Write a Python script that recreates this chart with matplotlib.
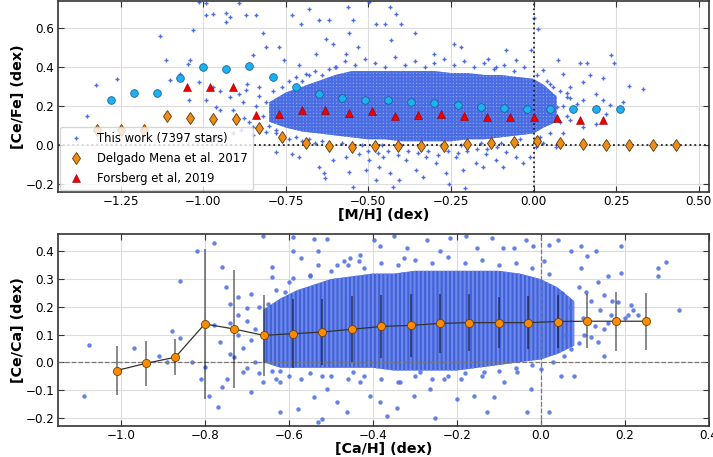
import matplotlib
matplotlib.use('Agg')
import matplotlib.pyplot as plt
import numpy as np

# ---- top panel: [Ce/Fe] vs [M/H] ----
# binned means of this work
mean_mh = [-1.28, -1.21, -1.14, -1.07, -1.00, -0.93, -0.86, -0.79, -0.72, -0.65, -0.58, -0.51,
           -0.44, -0.37, -0.30, -0.23, -0.16, -0.09, -0.02, 0.05, 0.12, 0.19, 0.26]
mean_cefe = [0.23, 0.268, 0.27, 0.344, 0.402, 0.393, 0.407, 0.35, 0.299, 0.265, 0.241, 0.234,
             0.231, 0.222, 0.214, 0.205, 0.197, 0.191, 0.186, 0.188, 0.188, 0.186, 0.188]

# Delgado Mena et al. 2017
dm_mh = [-1.32, -1.25, -1.18, -1.11, -1.04, -0.97, -0.90, -0.83, -0.76, -0.69, -0.62, -0.55, -0.48,
         -0.41, -0.34, -0.27, -0.20, -0.13, -0.06, 0.01, 0.08, 0.15, 0.22, 0.29, 0.36, 0.43]
dm_cefe = [0.080, 0.080, 0.080, 0.149, 0.140, 0.133, 0.133, 0.090, 0.044, 0.010, -0.004, -0.009, -0.004,
           -0.005, -0.004, -0.002, 0.005, 0.009, 0.014, 0.019, 0.012, 0.007, 0.003, 0.002, 0.002, 0.002]

# Forsberg et al. 2019
fo_mh = [-1.05, -0.98, -0.91, -0.84, -0.77, -0.70, -0.63, -0.56, -0.49, -0.42, -0.35, -0.28,
         -0.21, -0.14, -0.07, 0.00, 0.07, 0.14, 0.21]
fo_cefe = [0.296, 0.296, 0.296, 0.157, 0.159, 0.181, 0.181, 0.164, 0.176, 0.150, 0.154, 0.159,
           0.152, 0.147, 0.144, 0.144, 0.137, 0.128, 0.128]

# envelope of the dense part of the star cloud
core_mh = [-0.80, -0.75, -0.70, -0.65, -0.60, -0.55, -0.50, -0.45, -0.40, -0.35, -0.30, -0.25,
           -0.20, -0.15, -0.10, -0.05, 0.00, 0.03, 0.07]
core_lo = [0.12, 0.09, 0.07, 0.06, 0.05, 0.04, 0.03, 0.03, 0.02, 0.02, 0.02, 0.02,
           0.03, 0.03, 0.04, 0.05, 0.06, 0.09, 0.12]
core_hi = [0.22, 0.27, 0.30, 0.33, 0.36, 0.38, 0.38, 0.38, 0.38, 0.38, 0.38, 0.37,
           0.37, 0.36, 0.36, 0.35, 0.34, 0.31, 0.25]

# individual stars outside the dense part
halo_mh = [-1.323, -1.353, -1.262, -1.130, -1.113, -1.100, -1.070, -1.045, -1.040, -1.032, -1.012, -0.990,
           -0.990, -0.970, -0.930, -0.930, -0.920, -0.890, -0.870, -0.840, -1.042, -1.012, -0.970, -0.950,
           -0.960, -0.990, -0.920, -0.890, -0.870, -0.866, -0.850, -0.820, -0.810, -0.770, -0.755, -0.730,
           -0.705, -0.680, -0.650, -0.620, -0.563, -0.910, -0.850, -0.876, -0.810, -0.780, -0.950, -0.910,
           -0.884, -0.960, -0.648, -0.634, -0.630, -0.608, -0.568, -0.558, -0.547, -0.710, -0.730, -0.658,
           -0.608, -0.568, -0.558, -0.532, -0.628, -0.709, -0.689, -0.598,
           -0.497, -0.436, -0.416, -0.477, -0.450, -0.400, -0.360, -0.430, -0.548, 0.000, 0.013, -0.240,
           -0.220, -0.300, -0.082, -0.008, -0.138, -0.113, -0.053, 0.074, 0.090, 0.140, 0.162, 0.233,
           0.243, 0.290, 0.330, 0.210, 0.170, 0.150, 0.110, 0.100, 0.150, 0.190, 0.230, 0.220,
           0.190, 0.150, 0.110, 0.090, 0.050, 0.070, 0.050, 0.028, 0.270, 0.210,
           -0.528, -0.497, -0.467, -0.436, -0.406, -0.426, -0.356, -0.336, -0.296, -0.265, -0.255, -0.215,
           -0.174, -0.154, -0.113, -0.093, -0.053, -0.032, -0.012, -0.209, -0.477, -0.507, -0.456, -0.386,
           -0.325, -0.234, -0.144, -0.083, 0.008, 0.028, 0.069,
           -0.50, -0.47, -0.44, -0.41, -0.38, -0.35, -0.32, -0.29, -0.26, -0.23, -0.20, -0.17, -0.14, -0.11,
           -0.60, -0.57, -0.54, -0.51, -0.48, -0.45, -0.42, -0.39, -0.36, -0.33, -0.30, -0.27, -0.24, -0.21,
           -0.18, -0.15, -0.12, -0.09, -0.06, -0.03, 0.01, 0.04, 0.06,
           -0.84, -0.83, -0.82, -0.81, -0.80, -0.79, -0.78, -0.83, -0.86, -0.88, -0.85,
           -0.76, -0.74, -0.72, -0.70, -0.68, -0.66, -0.64, -0.62,
           -0.78, -0.76, -0.74, -0.72, -0.70, -0.68, -0.66, -0.64, -0.62, -0.58, -0.52, -0.46, -0.40, -0.34,
           -0.28, -0.22, -0.16, -0.10, -0.04, 0.02,
           0.08, 0.09, 0.10, 0.11, 0.12, 0.13, 0.08, 0.10]
halo_cefe = [0.311, 0.150, 0.340, 0.561, 0.439, 0.332, 0.364, 0.414, 0.439, 0.590, 0.735, 0.727,
             0.667, 0.675, 0.680, 0.630, 0.655, 0.730, 0.667, 0.667, 0.230, 0.325, 0.300, 0.280,
             0.197, 0.230, 0.248, 0.265, 0.282, 0.316, 0.460, 0.573, 0.504, 0.504, 0.439, 0.667,
             0.624, 0.700, 0.640, 0.640, 0.709, 0.060, 0.094, 0.137, 0.068, -0.034, 0.180, 0.180,
             0.077, 0.043, -0.111, -0.145, -0.170, -0.077, -0.060, -0.137, -0.214, -0.060, -0.043, 0.470,
             0.520, 0.470, 0.573, 0.504, 0.547, 0.410, 0.367, 0.400,
             0.735, 0.709, 0.675, 0.624, 0.620, 0.620, 0.573, 0.538, 0.641, 0.650, 0.598, 0.520,
             0.504, 0.470, 0.487, 0.487, 0.444, 0.400, 0.436, 0.436, 0.367, 0.424, 0.424, 0.462,
             0.422, 0.303, 0.290, 0.342, 0.359, 0.325, 0.300, 0.248, 0.230, 0.265, 0.205, 0.162,
             0.111, 0.094, 0.128, 0.060, 0.060, 0.197, 0.316, 0.385, 0.222, 0.230,
             -0.043, -0.077, -0.111, -0.145, -0.180, -0.214, -0.128, -0.162, -0.094, -0.145, -0.197, -0.128,
             -0.094, -0.111, -0.077, -0.111, -0.060, -0.094, -0.060, -0.222, -0.180, -0.128, -0.060, -0.077,
             -0.060, -0.060, -0.043, -0.034, -0.009, 0.009, -0.009,
             -0.03, -0.04, -0.03, -0.05, -0.03, -0.04, -0.03, -0.05, -0.03, -0.04, -0.03, -0.02, -0.02, -0.01,
             0.40, 0.43, 0.41, 0.44, 0.42, 0.40, 0.45, 0.41, 0.43, 0.40, 0.42, 0.44, 0.41, 0.43,
             0.40, 0.42, 0.39, 0.41, 0.38, 0.40, 0.36, 0.33, 0.30,
             0.20, 0.25, 0.15, 0.22, 0.10, 0.28, 0.06, 0.30, 0.12, 0.22, 0.05,
             0.30, 0.33, 0.35, 0.33, 0.36, 0.38, 0.36, 0.39,
             0.08, 0.05, 0.03, 0.04, 0.02, 0.03, 0.01, 0.02, 0.00, 0.01, 0.00, 0.00, 0.00, -0.01,
             0.00, 0.00, 0.01, 0.01, 0.03, 0.04,
             0.28, 0.20, 0.15, 0.24, 0.18, 0.21, 0.12, 0.27]

# ---- bottom panel: [Ce/Ca] vs [Ca/H] ----
bin_cah = [-1.01, -0.94, -0.87, -0.80, -0.73, -0.66, -0.59, -0.52, -0.45, -0.38, -0.31, -0.24,
           -0.17, -0.10, -0.03, 0.04, 0.11, 0.18, 0.25]
bin_ceca = [-0.030, -0.004, 0.018, 0.138, 0.120, 0.097, 0.103, 0.109, 0.119, 0.129, 0.133, 0.140,
            0.143, 0.143, 0.143, 0.147, 0.148, 0.148, 0.148]
bin_err = [0.090, 0.082, 0.065, 0.270, 0.213, 0.145, 0.125, 0.118, 0.120, 0.115, 0.115, 0.105,
           0.103, 0.093, 0.095, 0.096, 0.097, 0.106, 0.103]

core2_cah = [-0.66, -0.62, -0.58, -0.54, -0.50, -0.45, -0.40, -0.35, -0.30, -0.25, -0.20, -0.15,
             -0.10, -0.05, 0.00, 0.04, 0.08]
core2_lo = [0.00, -0.02, -0.02, -0.02, -0.02, -0.02, -0.02, -0.03, -0.03, -0.03, -0.03, -0.02,
            -0.01, 0.00, 0.01, 0.03, 0.06]
core2_hi = [0.19, 0.23, 0.26, 0.28, 0.30, 0.31, 0.32, 0.32, 0.33, 0.33, 0.33, 0.33,
            0.33, 0.32, 0.30, 0.27, 0.22]

halo2_cah = [-1.076, -1.087, -0.969, -0.910, -0.889, -0.879, -0.859, -0.859, -0.819, -0.830, -0.809, -0.800,
             -0.789, -0.768, -0.779, -0.760, -0.749, -0.740, -0.760, -0.748, -0.779, -0.763, -0.740, -0.720,
             -0.700, -0.691, -0.691, -0.710, -0.680, -0.661, -0.640, -0.640, -0.661, -0.620, -0.608, -0.589,
             -0.589, -0.589, -0.577, -0.620, -0.570, -0.550, -0.541, -0.530, -0.530, -0.541, -0.530, -0.522,
             -0.509, -0.509, -0.485, -0.469, -0.454, -0.485, -0.461, -0.433,
             -0.398, -0.350, -0.318, -0.271, -0.382, -0.430, -0.326, -0.239, -0.215, -0.179, -0.151, -0.115,
             -0.091, -0.063, -0.035, -0.019, 0.008, 0.020, 0.040, 0.072, 0.096, 0.131, 0.111, 0.159,
             0.190, 0.190, 0.280, 0.280, 0.299, 0.330, 0.096, 0.136, 0.107, 0.151, 0.183, 0.215,
             0.231, 0.207, 0.167, 0.151, 0.136, 0.104, 0.072, 0.056, 0.048, 0.080, 0.151,
             -0.446, -0.430, -0.406, -0.382, -0.366, -0.342, -0.334, -0.302, -0.263, -0.251, -0.287, -0.231,
             -0.199, -0.191, -0.159, -0.127, -0.111, -0.135, -0.087, -0.056, -0.032, 0.000, 0.020, -0.024,
             -0.72, -0.71, -0.70, -0.69, -0.68, -0.67, -0.72, -0.74, -0.73, -0.70, -0.67, -0.64, -0.63,
             -0.60, -0.57, -0.55, -0.52,
             -0.55, -0.50, -0.46, -0.42, -0.38, -0.34, -0.30, -0.26, -0.22, -0.18, -0.14, -0.10, -0.06, -0.02,
             0.02, -0.63, -0.60, -0.65,
             0.05, 0.07, 0.09, 0.10, 0.12, 0.13, 0.14, 0.06, 0.09, 0.12, 0.16, 0.17, 0.20, 0.22,
             -0.62, -0.50, -0.46, -0.42, -0.38, -0.34, -0.30, -0.26, -0.22, -0.18, -0.14, -0.10, -0.06, -0.02,
             0.03]
halo2_ceca = [0.061, -0.121, 0.051, 0.021, 0.000, 0.112, 0.089, 0.293, 0.402, 0.000, -0.060, -0.019,
              -0.121, -0.161, 0.432, 0.342, 0.270, 0.212, -0.091, -0.060, 0.133, 0.073, 0.030, 0.236,
              0.194, 0.245, -0.109, -0.036, 0.000, -0.073, 0.306, 0.342, 0.455, -0.073, 0.252, 0.451,
              0.402, 0.303, -0.169, -0.181, 0.376, 0.315, 0.446, 0.402, 0.352, -0.127, -0.216, -0.206,
              0.446, -0.097, 0.352, 0.364, 0.376, -0.145, -0.181, 0.364,
              0.443, 0.455, 0.412, 0.443, 0.418, 0.388, 0.376, 0.400, 0.449, 0.455, 0.412, 0.449,
              0.412, 0.412, 0.443, 0.418, 0.364, 0.425, 0.443, 0.400, 0.418, 0.400, 0.382, 0.310,
              0.322, 0.418, 0.339, 0.311, 0.361, 0.190, 0.339, 0.291, 0.255, 0.242, 0.218, 0.206,
              0.170, 0.170, 0.170, 0.121, 0.073, 0.097, 0.048, 0.024, -0.048, -0.048, 0.024,
              -0.036, -0.073, -0.121, -0.145, -0.194, -0.164, -0.073, -0.121, -0.097, -0.200, -0.036, -0.060,
              -0.133, -0.060, -0.121, -0.181, -0.127, -0.036, -0.073, -0.036, -0.181, -0.024, -0.181, -0.097,
              0.10, 0.05, 0.15, 0.08, 0.12, 0.20, 0.17, 0.14, 0.02, -0.02, -0.04, -0.03, -0.06,
              -0.05, -0.06, -0.04, -0.05,
              0.31, 0.33, 0.35, 0.34, 0.36, 0.35, 0.37, 0.36, 0.38, 0.36, 0.37, 0.35, 0.36, 0.34,
              0.32, 0.26, 0.29, 0.21,
              0.25, 0.20, 0.27, 0.16, 0.22, 0.13, 0.19, 0.10, 0.07, 0.09, 0.14, 0.22, 0.16, 0.19,
              -0.03, -0.05, -0.06, -0.05, -0.06, -0.07, -0.05, -0.06, -0.05, -0.04, -0.05, -0.03, -0.02, -0.01,
              0.00]

star_blue = '#4a6de3'

plt.rcParams['hatch.color'] = star_blue
plt.rcParams['hatch.linewidth'] = 1.5

fig = plt.figure(figsize=(7.13, 4.57), dpi=100)
ax1 = fig.add_axes([0.081, 0.580, 0.913, 0.418])
ax2 = fig.add_axes([0.081, 0.068, 0.913, 0.420])

for ax in (ax1, ax2):
    ax.grid(True, color='#dcdcdc', lw=0.8, zorder=0)
    ax.set_axisbelow(True)
    ax.tick_params(direction='in', top=True, right=True, length=4, labelsize=8.6, color='#333333',
                   pad=2.5)
    for s in ax.spines.values():
        s.set_color('#333333')
        s.set_linewidth(1.2)

# top panel
ax1.fill_between(core_mh, core_lo, core_hi, facecolor='#93a8ee', edgecolor=star_blue,
                 linewidth=0, hatch='+++++', zorder=1)
ax1.plot(halo_mh, halo_cefe, '+', color=star_blue, ms=3.5, mew=1.0, ls='none', zorder=2,
         label='This work (7397 stars)')
ax1.axhline(0, color='#222222', ls=':', lw=1.3, zorder=3)
ax1.axvline(0, color='#222222', ls=':', lw=1.3, zorder=3)
ax1.plot(mean_mh, mean_cefe, 'o', color='#1cb2f0', mec='#1f5f9f', mew=0.6, ms=5.5, ls='none', zorder=4)
ax1.plot(dm_mh, dm_cefe, 'd', color='#f08c14', mec='#5a3a10', mew=0.6, ms=6, ls='none', zorder=4,
         label='Delgado Mena et al. 2017')
ax1.plot(fo_mh, fo_cefe, '^', color='#ee0000', mec='#990000', mew=0.4, ms=5.5, ls='none', zorder=4,
         label='Forsberg et al, 2019')
ax1.set_xlim(-1.44, 0.53)
ax1.set_ylim(-0.24, 0.74)
ax1.set_xticks([-1.25, -1.0, -0.75, -0.5, -0.25, 0.0, 0.25, 0.5])
ax1.set_yticks([-0.2, 0.0, 0.2, 0.4, 0.6])
ax1.set_xlabel('[M/H] (dex)', fontsize=10.3, fontweight='bold', labelpad=0)
ax1.set_ylabel('[Ce/Fe] (dex)', fontsize=10.3, fontweight='bold', labelpad=0)
ax1.legend(loc='lower left', fontsize=8.4, frameon=True, framealpha=0.8, edgecolor='#cccccc',
           borderpad=0.45, labelspacing=0.6, handletextpad=0.8, borderaxespad=0.15)

# bottom panel
ax2.fill_between(core2_cah, core2_lo, core2_hi, facecolor='#4262dc', edgecolor='#6d88e8',
                 linewidth=0, hatch='||||', zorder=1)
ax2.plot(halo2_cah, halo2_ceca, 'o', color=star_blue, alpha=0.85, ms=3.2, mew=0, ls='none', zorder=2)
ax2.axhline(0, color='#777777', ls='--', lw=0.9, zorder=3)
ax2.axvline(0, color='#777777', ls='--', lw=0.9, zorder=3)
ax2.errorbar(bin_cah, bin_ceca, yerr=bin_err, fmt='none', ecolor='black', elinewidth=1.3,
             alpha=0.5, capsize=0, zorder=4)
ax2.plot(bin_cah, bin_ceca, '-', color='#333333', lw=0.9, zorder=5)
ax2.plot(bin_cah, bin_ceca, 'o', color='#ff8c00', mec='#6a4000', mew=0.6, ms=5.8, ls='none', zorder=6)
ax2.set_xlim(-1.15, 0.40)
ax2.set_ylim(-0.23, 0.463)
ax2.set_xticks([-1.0, -0.8, -0.6, -0.4, -0.2, 0.0, 0.2, 0.4])
ax2.set_yticks([-0.2, -0.1, 0.0, 0.1, 0.2, 0.3, 0.4])
ax2.set_xlabel('[Ca/H] (dex)', fontsize=10.3, fontweight='bold', labelpad=0)
ax2.set_ylabel('[Ce/Ca] (dex)', fontsize=10.3, fontweight='bold', labelpad=0)

fig.savefig('out.png', dpi=100)
